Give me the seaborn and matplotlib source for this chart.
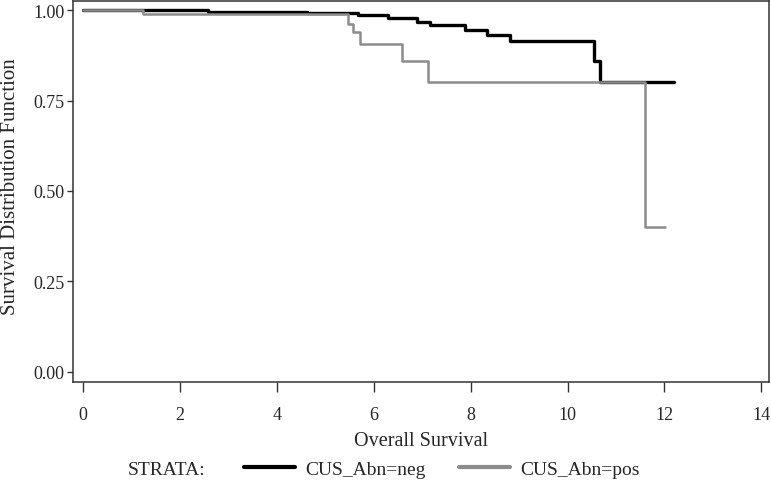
import matplotlib
matplotlib.use("Agg")
import matplotlib.pyplot as plt
import seaborn as sns
import pandas as pd
from matplotlib.lines import Line2D

# Kaplan-Meier step curves (time, survival)
neg_time = [0, 2.58, 4.63, 5.68, 6.30, 6.90, 7.17, 7.89, 8.34, 8.82, 10.55, 10.68, 12.20]
neg_surv = [1.00, 0.994, 0.991, 0.987, 0.977, 0.968, 0.959, 0.946, 0.932, 0.914, 0.860, 0.80, 0.80]
pos_time = [0, 1.24, 5.47, 5.58, 5.72, 6.59, 7.12, 11.60, 12.02]
pos_surv = [1.00, 0.989, 0.961, 0.939, 0.906, 0.859, 0.80, 0.40, 0.40]

x_ticks = [0, 2, 4, 6, 8, 10, 12, 14]
y_ticks = [0.00, 0.25, 0.50, 0.75, 1.00]
labels = ["CUS_Abn=neg", "CUS_Abn=pos"]

sns.set_style("white")
plt.rcParams['font.family'] = ['Liberation Serif', 'DejaVu Serif']

fig = plt.figure(figsize=(7.71, 4.81), dpi=100)
ax = fig.add_axes([73/771, 1-383/481, (769-73)/771, (383-2)/481])

df_neg = pd.DataFrame({"time": neg_time, "surv": neg_surv})
df_pos = pd.DataFrame({"time": pos_time, "surv": pos_surv})

sns.lineplot(data=df_neg, x="time", y="surv", ax=ax, color="black", linewidth=2.4,
             drawstyle="steps-post", estimator=None, sort=False)
sns.lineplot(data=df_pos, x="time", y="surv", ax=ax, color="#8c8c8c", linewidth=1.8,
             drawstyle="steps-post", estimator=None, sort=False)

ax.set_xlim(-0.21, 14.16)
ax.set_ylim(-0.028, 1.025)
ax.set_xticks(x_ticks)
ax.set_xticklabels([str(t) for t in x_ticks])
ax.set_yticks(y_ticks)
ax.set_yticklabels([f"{v:.2f}" for v in y_ticks])
ax.tick_params(axis='x', direction='out', length=7, width=1, color='#333333',
               labelsize=13, pad=10, bottom=True)
ax.tick_params(axis='y', direction='out', length=4, width=1, color='#333333',
               labelsize=13, pad=2, left=True)
for s in ax.spines.values():
    s.set_color('#333333')
    s.set_linewidth(1.1)

ax.set_xlabel("Overall Survival", fontsize=14.5, labelpad=6)
ax.set_ylabel("Survival Distribution Function", fontsize=15)
ax.yaxis.set_label_coords((20-73)/696, (383-187)/381)

fig.text(167/771, 1-471/481, "STRATA:", fontsize=14, ha='center', va='center')
handles = [Line2D([], [], color='black', linewidth=3),
           Line2D([], [], color='#8c8c8c', linewidth=3)]
fig.legend(handles, labels, loc='center', bbox_to_anchor=(442/771, 1-470/481),
           ncol=2, frameon=False, fontsize=14, handlelength=2.6, handletextpad=0.55,
           columnspacing=1.7)

fig.savefig("out.png", dpi=100)
